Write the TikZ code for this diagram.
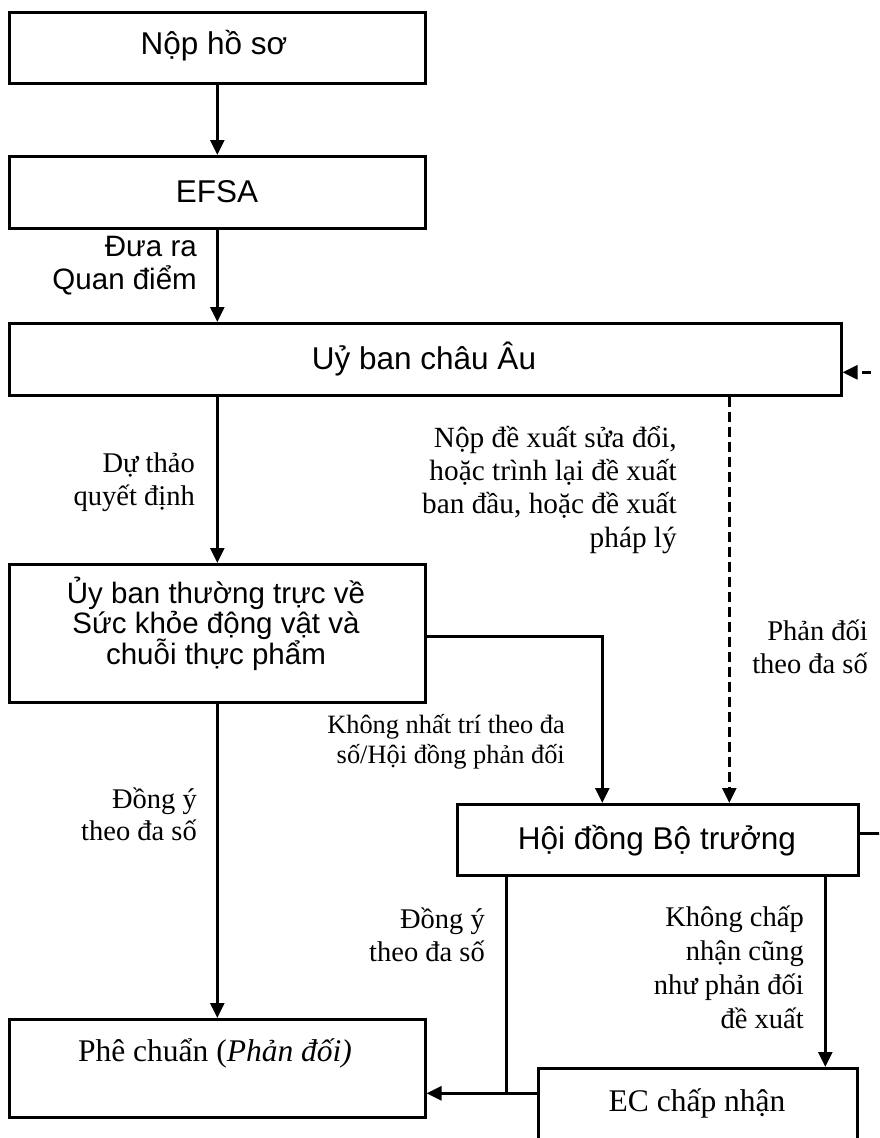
\documentclass[tikz,border=0pt]{standalone}
\usepackage{fontspec}
\setmainfont{Liberation Serif}
\newfontfamily\sansf{Liberation Sans}
\usetikzlibrary{arrows.meta}
\lineskiplimit=-100pt
\begin{document}
\begin{tikzpicture}[x=1pt,y=-1pt,
  box/.style={draw, line width=2.6pt, inner sep=0pt, anchor=north west},
  conn/.style={line width=2.6pt},
  arr/.style={conn, -{Triangle[length=15pt,width=14pt]}},
  dsh/.style={dash pattern=on 10pt off 5pt},
  stext/.style={font=\sansf\fontsize{31.5}{31}\selectfont, inner sep=0pt, anchor=base, align=center},
  btext/.style={font=\fontsize{31.5}{34}\selectfont, inner sep=0pt, anchor=base},
  lbl/.style={font=\fontsize{28.5}{33.3}\selectfont, inner sep=0pt, anchor=base east, align=right},
  slbl/.style={font=\sansf\fontsize{29.5}{33}\selectfont, inner sep=0pt, anchor=base east, align=right}]
\useasboundingbox (0,0) rectangle (879,1138);
\clip (0,0) rectangle (879,1138);

% boxes
\node[box, minimum width=416pt, minimum height=71pt] (n1) at (8,11) {};
\node[box, minimum width=416pt, minimum height=72pt] (efsa) at (8,155) {};
\node[box, minimum width=832pt, minimum height=72pt] (ecm) at (8,322) {};
\node[box, minimum width=416pt, minimum height=138pt] (sc) at (8,563) {};
\node[box, minimum width=401pt, minimum height=71pt] (hd) at (456,803) {};
\node[box, minimum width=416pt, minimum height=98pt] (pc) at (8,1018) {};
\node[box, minimum width=319pt, minimum height=110pt] (eca) at (537,1067) {};

% box texts (multi-line nodes: base = last line)
\node[stext] (n1t) at (214,54) {Nộp hồ sơ};
\node[stext] (efsat) at (217,202) {EFSA};
\node[stext] (ecmt) at (424,369) {Uỷ ban châu Âu};
\node[stext, font=\sansf\fontsize{29.5}{30.5}\selectfont] (sct) at (216,664) {Ủy ban thường trực về\\Sức khỏe động vật và\\chuỗi thực phẩm};
\node[stext] (hdt) at (657,849) {Hội đồng Bộ trưởng};
\node[btext] (pct) at (215,1061) {Phê chuẩn (\textit{Phản đối)}};
\node[btext] (ecat) at (697,1111) {EC chấp nhận};

% labels
\node[slbl] (l1) at (197,289) {Đưa ra\\Quan điểm};
\node[lbl, font=\fontsize{28.5}{32.5}\selectfont] (l2) at (195,505) {Dự thảo\\quyết định};
\node[lbl, font=\fontsize{29.3}{33.3}\selectfont] (l3) at (677,547) {Nộp đề xuất sửa đổi,\\hoặc trình lại đề xuất\\ban đầu, hoặc đề xuất\\pháp lý};
\node[lbl, font=\fontsize{28.5}{33}\selectfont] (l4) at (868,673) {Phản đối\\theo đa số};
\node[lbl, font=\fontsize{26.4}{29.5}\selectfont] (l5) at (565,763) {Không nhất trí theo đa\\số/Hội đồng phản đối};
\node[lbl, font=\fontsize{28.5}{32}\selectfont] (l6) at (197,840) {Đồng ý\\theo đa số};
\node[lbl, font=\fontsize{28.5}{33}\selectfont] (l7) at (485,961) {Đồng ý\\theo đa số};
\node[lbl, font=\fontsize{28.5}{33.7}\selectfont] (l8) at (804,1028) {Không chấp\\nhận cũng\\như phản đối\\đề xuất};

% coordinates
\coordinate (scE) at ([yshift=-3pt]sc.east);
\coordinate (hdN1) at ([xshift=-55.5pt]hd.north);
\coordinate (ecmS) at ([xshift=304pt]ecm.south);
\coordinate (hdL) at ([xshift=-151.5pt]hd.south);
\coordinate (hdR) at ([xshift=167.5pt]hd.south);
\coordinate (pcE) at ([yshift=-25pt]pc.east);
\coordinate (ecaW) at (eca.west |- pcE);
\coordinate (hdE) at ([yshift=6.5pt]hd.east);
\coordinate (ecmE) at ([yshift=-13pt]ecm.east);
\coordinate (edgeA) at (hdE -| 892,0);
\coordinate (edgeB) at (ecmE -| 892,0);

% connectors
\draw[arr] (n1.south) -- (efsa.north);
\draw[arr] (efsa.south) -- (efsa.south |- ecm.north);
\draw[arr] (sc.north |- ecm.south) -- (sc.north);
\draw[arr] (sc.south) -- (pc.north);
\draw[arr] (scE) -| (hdN1);
\draw[arr, dsh] (ecmS) -- (ecmS |- hd.north);
\draw[conn] (hdL) -- (hdL |- pcE);
\draw[arr] (ecaW) -- (pcE);
\draw[arr] (hdR) -- (hdR |- eca.north);
\draw[conn] (hdE) -- (edgeA);
\draw[arr, dash pattern=on 9pt off 14pt, dash phase=2pt] (edgeB) -- (ecmE);
\end{tikzpicture}
\end{document}
